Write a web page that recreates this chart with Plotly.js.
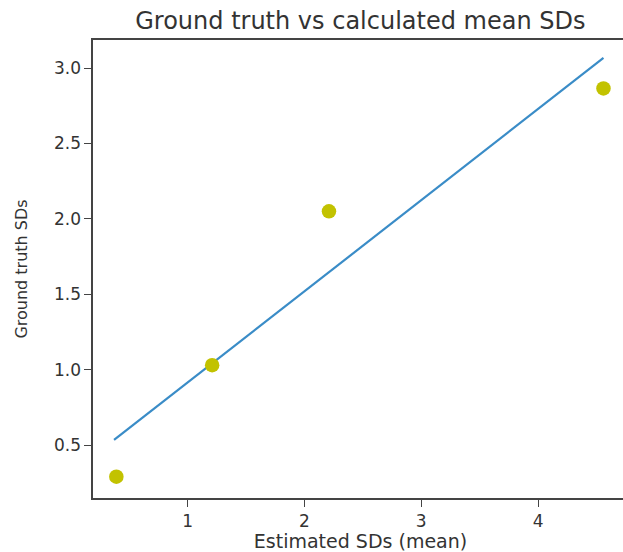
<!DOCTYPE html>
<html><head><meta charset="utf-8">
<script src="https://cdn.plot.ly/plotly-3.0.1.min.js"></script>
<style>html,body{margin:0;padding:0;overflow:hidden;background:#fff}</style>
</head><body>
<div id="chart"></div>
<script>
const estimatedSD = [0.39, 1.21, 2.21, 4.56];
const groundTruthSD = [0.29, 1.03, 2.05, 2.865];
const fitX = [0.37, 4.56];
const fitY = [0.534, 3.067];
const xTicks = [1, 2, 3, 4];
const yTicks = [0.5, 1.0, 1.5, 2.0, 2.5, 3.0];
const yTickText = ['0.5', '1.0', '1.5', '2.0', '2.5', '3.0'];

const font = 'DejaVu Sans, sans-serif';
Plotly.newPlot('chart', [
  {x: fitX, y: fitY, mode: 'lines', line: {color: '#3a8cc7', width: 2.2}, showlegend: false, hoverinfo: 'skip'},
  {x: estimatedSD, y: groundTruthSD, mode: 'markers', marker: {color: '#c2c200', size: 14.5}, showlegend: false}
], {
  width: 630, height: 552,
  margin: {l: 93, r: 2, t: 40, b: 54},
  paper_bgcolor: '#fff', plot_bgcolor: '#fff',
  title: {text: 'Ground truth vs calculated mean SDs', font: {family: font, size: 24, color: '#333'}, x: 0.572, xanchor: 'center', y: 0.962, yanchor: 'middle'},
  xaxis: {range: [0.19, 4.77], tickvals: xTicks, ticktext: xTicks.map(String), showgrid: false, zeroline: false,
    showline: true, linecolor: '#444', linewidth: 1.6, mirror: true, ticks: 'outside', ticklen: 7, tickcolor: '#444',
    tickfont: {family: font, size: 17, color: '#333'},
    title: {text: 'Estimated SDs (mean)', font: {family: font, size: 19, color: '#333'}, standoff: 4}},
  yaxis: {range: [0.149, 3.186], tickvals: yTicks, ticktext: yTickText, showgrid: false, zeroline: false,
    showline: true, linecolor: '#444', linewidth: 1.6, mirror: false, ticks: 'outside', ticklen: 7, tickcolor: '#444',
    tickfont: {family: font, size: 17, color: '#333'},
    title: {text: 'Ground truth SDs', font: {family: font, size: 16, color: '#333'}, standoff: 22}}
}, {displayModeBar: false, staticPlot: true});
</script>
</body></html>
